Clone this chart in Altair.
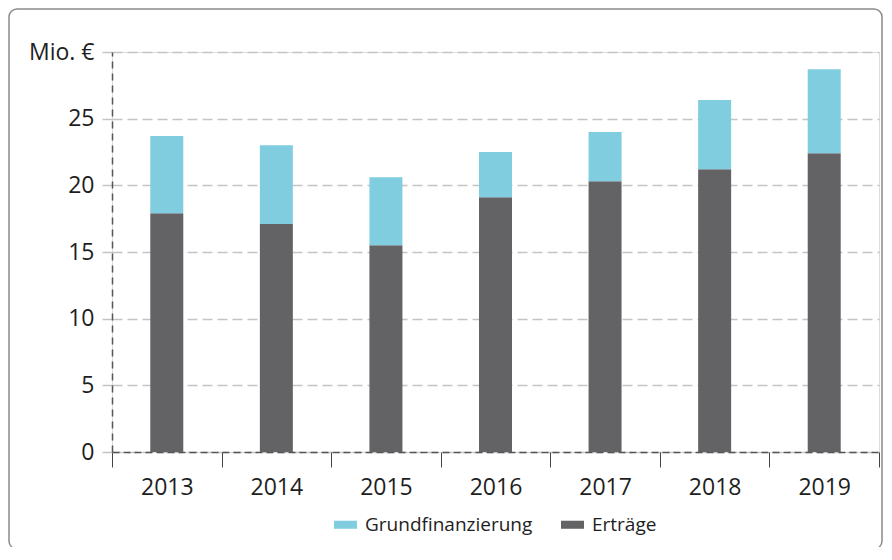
import altair as alt
import pandas as pd

years = ["2013", "2014", "2015", "2016", "2017", "2018", "2019"]
ertraege = [17.9, 17.1, 15.5, 19.1, 20.3, 21.2, 22.4]
grund = [5.8, 5.9, 5.1, 3.4, 3.7, 5.2, 6.3]
series = ["Grundfinanzierung", "Erträge"]
colors = ["#80CDE0", "#636365"]
y_ticks = [0, 5, 10, 15, 20, 25, 30]

rows = []
for y, e, g in zip(years, ertraege, grund):
    rows.append({"Jahr": y, "Reihe": "Erträge", "Wert": e, "ord": 0})
    rows.append({"Jahr": y, "Reihe": "Grundfinanzierung", "Wert": g, "ord": 1})
df = pd.DataFrame(rows)

FONT = "Open Sans"

bars = alt.Chart(df).mark_bar(size=33).encode(
    x=alt.X("Jahr:N", sort=years, title=None,
            scale=alt.Scale(paddingInner=0, paddingOuter=0),
            axis=alt.Axis(labelAngle=0, tickBand="extent", tickSize=15, tickColor="#444444",
                          tickWidth=1, domainColor="#555555", domainDash=[7, 4], domainWidth=1.5,
                          labelFontSize=23, labelColor="#1e1e1e", labelPadding=9,
                          labelFont=FONT, grid=False)),
    y=alt.Y("Wert:Q", stack="zero", title=None,
            scale=alt.Scale(domain=[0, 30], nice=False),
            axis=alt.Axis(values=y_ticks, grid=True, gridDash=[10, 5], gridColor="#c4c4c4",
                          gridWidth=1.5, tickSize=15, tickDash=[10, 5], tickColor="#c4c4c4",
                          tickWidth=1.5, domainColor="#555555", domainDash=[7, 5], domainWidth=1.5,
                          labelFontSize=23, labelColor="#1e1e1e", labelPadding=3, labelFont=FONT,
                          labelExpr="datum.value == 30 ? 'Mio. €' : datum.label")),
    color=alt.Color("Reihe:N", scale=alt.Scale(domain=series, range=colors),
                    legend=alt.Legend(title=None, orient="none", direction="horizontal",
                                      legendX=222, legendY=461,
                                      symbolType="M-1,-0.35L1,-0.35L1,0.35L-1,0.35Z",
                                      symbolSize=529, symbolStrokeWidth=0, symbolOpacity=1,
                                      labelFontSize=19, labelFont=FONT, labelColor="#1e1e1e",
                                      labelLimit=400, labelOffset=8, columnPadding=28)),
    order=alt.Order("ord:Q"),
)

border = alt.Chart(pd.DataFrame({"a": [0]})).mark_rect(
    filled=False, stroke="#8a8a8a", strokeWidth=1.5, cornerRadius=8
).encode(
    x=alt.value(-103), x2=alt.value(770), y=alt.value(-43), y2=alt.value(497)
)

chart = alt.layer(bars, border).properties(
    width=767, height=400,
    padding={"left": 104, "top": 44, "right": 5, "bottom": 95},
    autosize=alt.AutoSizeParams(type="none"),
).configure_view(strokeWidth=0).configure(background="white")

chart.save("out.html", embed_options={"renderer": "svg", "actions": False})
